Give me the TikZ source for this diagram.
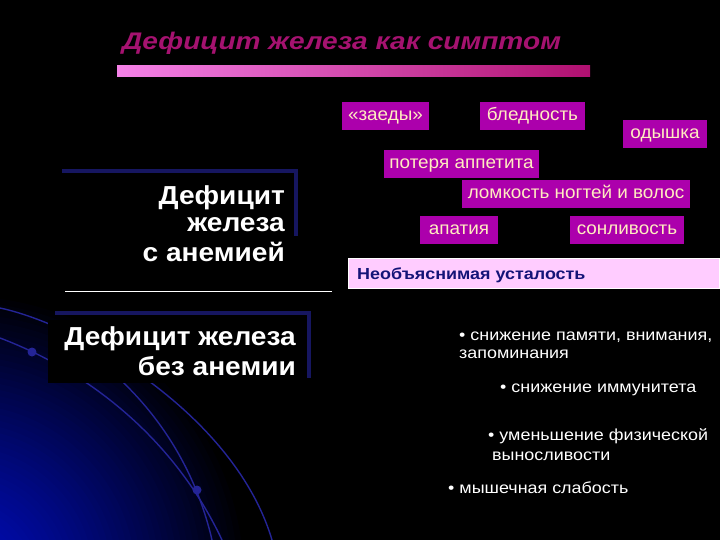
\documentclass[tikz,border=0pt]{standalone}
\usepackage{fontspec}
\setmainfont{Liberation Sans}
\newfontfamily\titlefont[FakeStretch=1.17]{Liberation Sans}
\newfontfamily\leftfont[FakeStretch=1.08]{Liberation Sans}
\newfontfamily\symfont[FakeStretch=1.05]{Liberation Sans}
\newfontfamily\bulfont[FakeStretch=1.12]{Liberation Sans}
\definecolor{titlecol}{RGB}{165,18,112}
\definecolor{barL}{RGB}{245,130,232}
\definecolor{barR}{RGB}{176,16,112}
\definecolor{symfill}{RGB}{172,0,172}
\definecolor{symtext}{RGB}{255,236,192}
\definecolor{framecol}{RGB}{22,22,96}
\definecolor{arccol}{RGB}{36,36,150}
\definecolor{glowA}{RGB}{0,12,186}
\definecolor{fatfill}{RGB}{255,204,255}
\definecolor{fattext}{RGB}{20,20,120}
\begin{document}
\begin{tikzpicture}[x=1pt,y=-1pt,
  sym/.style={fill=symfill, text=symtext, inner sep=0pt, minimum height=28pt, text height=13pt, text depth=4pt, font=\symfont\fontsize{18}{21}\selectfont},
  lefttitle/.style={text=white, inner sep=0pt, anchor=base east, font=\leftfont\bfseries\fontsize{26}{30}\selectfont},
  bullet/.style={text=white, inner sep=0pt, anchor=base west, font=\bulfont\fontsize{16}{19}\selectfont},
  frameline/.style={draw=framecol, line width=4pt},
  arcline/.style={draw=arccol, line width=1.4pt}]
\useasboundingbox (0,0) rectangle (720,540);
\fill[black] (0,0) rectangle (720,540);
% blue glow and arcs
\begin{scope}
  \clip (0,0) rectangle (720,540);
  \foreach \r in {290,284,...,8}{
    \pgfmathsetmacro\p{100*(1-(\r/290)^1.3)}
    \fill[glowA!\p!black] (-40,580) circle[radius=\r pt];
  }
  \draw[arcline] (0,338) .. controls (90,372) and (175,440) .. (222,540);
  \draw[arcline] (60,335) .. controls (130,375) and (190,445) .. (212,540);
  \draw[arcline] (0,308) .. controls (80,325) and (235,415) .. (272,540);
  \fill[arccol] (32,352) circle[radius=4.5pt];
  \fill[arccol] (197,490) circle[radius=4.5pt];
\end{scope}
% title
\node[anchor=base west, inner sep=0pt, text=titlecol, font=\titlefont\bfseries\itshape\fontsize{24}{28}\selectfont] (title) at (122,50) {Дефицит железа как симптом};
\shade[left color=barL, right color=barR] (117,66) rectangle (590,77);
% symptom boxes
\node[sym, minimum width=87pt] (zaedy) at (385.5,116) {«заеды»};
\node[sym, minimum width=105pt] (bled) at (532.5,116) {бледность};
\node[sym, minimum width=84pt] (odysh) at (665,134) {одышка};
\node[sym, minimum width=155pt] (poter) at (461.5,164) {потеря аппетита};
\node[sym, minimum width=228pt] (lomk) at (576,194) {ломкость ногтей и волос};
\node[sym, minimum width=78pt] (apat) at (459,230) {апатия};
\node[sym, minimum width=114pt] (sonl) at (627,230) {сонливость};
% fatigue box
\draw[white, line width=0.8pt, fill=fatfill] (348,258) rectangle (719.5,288);
\node[anchor=base west, inner sep=0pt, text=fattext, font=\bulfont\bfseries\fontsize{16}{19}\selectfont] (fat) at (357,279) {Необъяснимая усталость};
% left titles
\draw[frameline] (62,171) -- (296,171) -- (296,236);
\node[lefttitle] (t1a) at (285,205) {Дефицит};
\node[lefttitle] (t1b) at (285,232) {железа};
\node[lefttitle] (t1c) at (285,261) {с анемией};
\draw[white, line width=1pt] (65,291) -- (332,291);
\draw[frameline] (55,313) -- (309,313) -- (309,378);
\fill[black] (48,320) rectangle (305,383);
\node[lefttitle] (t2a) at (296,345) {Дефицит железа};
\node[lefttitle] (t2b) at (296,375) {без анемии};
% bullets
\node[bullet] (b1) at (459,340) {• снижение памяти, внимания,};
\node[bullet] (b1b) at (459,358) {запоминания};
\node[bullet] (b2) at (500,392) {• снижение иммунитета};
\node[bullet] (b3) at (488,440) {• уменьшение физической};
\node[bullet] (b3b) at (492,460) {выносливости};
\node[bullet] (b4) at (448,493) {• мышечная слабость};
\end{tikzpicture}
\end{document}
